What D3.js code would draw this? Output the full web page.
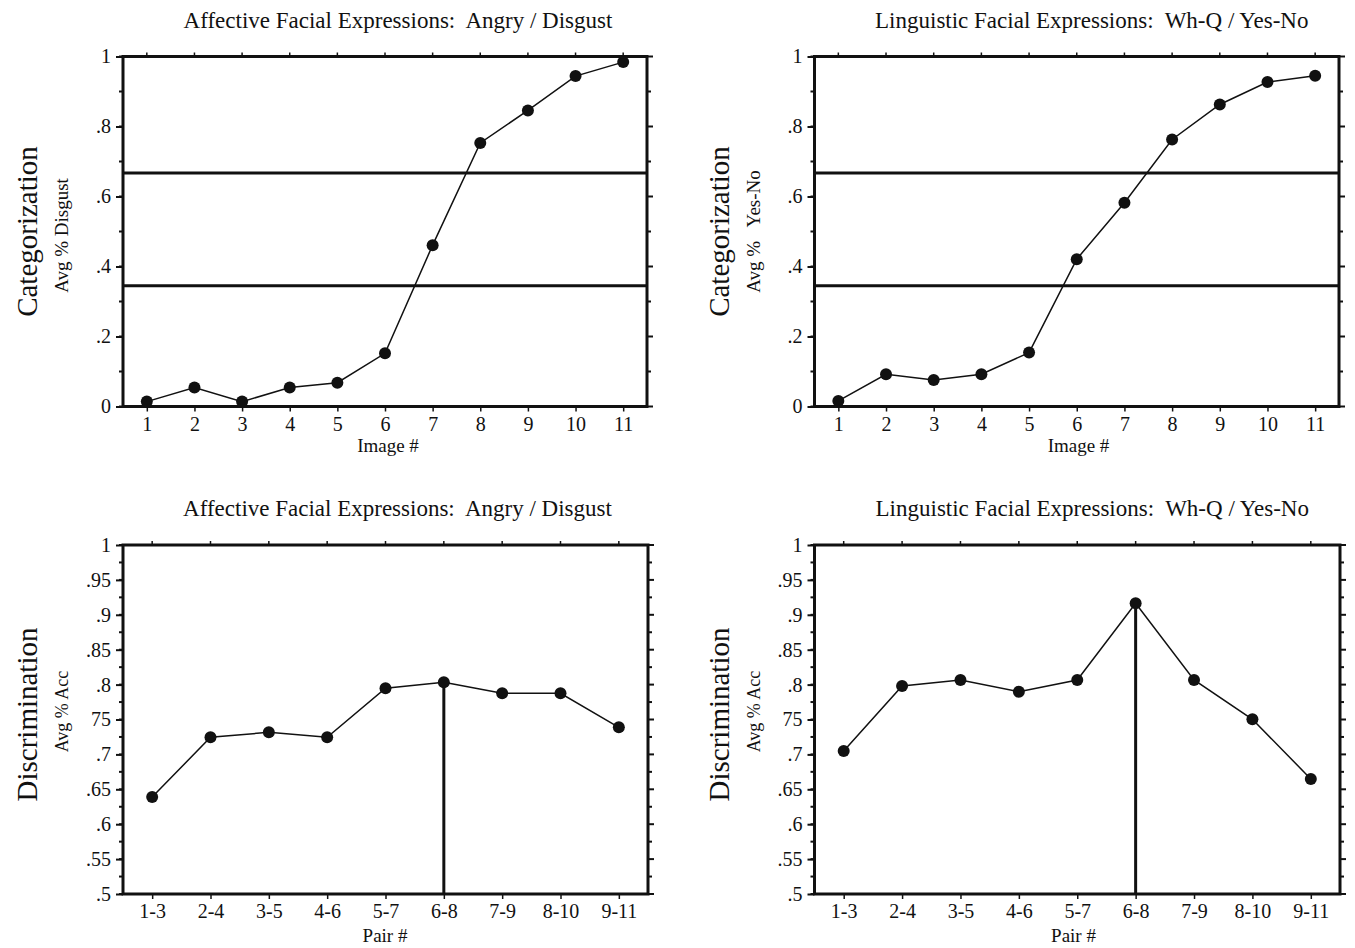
<!DOCTYPE html>
<html>
<head>
<meta charset="utf-8">
<script src="https://cdn.jsdelivr.net/npm/d3@7"></script>
<style>
  body { margin: 0; background: #fff; }
  svg text { font-family: "Liberation Serif", "Times New Roman", serif; fill: #111; white-space: pre; }
</style>
</head>
<body>
<div id="chart"></div>
<script>
// image numbers for the categorization panels
const images = [1, 2, 3, 4, 5, 6, 7, 8, 9, 10, 11];
const angryDisgustCat = [0.014, 0.054, 0.014, 0.054, 0.068, 0.152, 0.461, 0.753, 0.846, 0.944, 0.984];
const whqYesNoCat = [0.016, 0.092, 0.076, 0.092, 0.154, 0.421, 0.582, 0.763, 0.863, 0.927, 0.945];
const catThresholds = [0.345, 0.667];
const catTicks = [0, 0.2, 0.4, 0.6, 0.8, 1];
const catTickLabels = ["0", ".2", ".4", ".6", ".8", "1"];

// pairs for the discrimination panels
const pairs = ["1-3", "2-4", "3-5", "4-6", "5-7", "6-8", "7-9", "8-10", "9-11"];
const angryDisgustDisc = [0.639, 0.7245, 0.7317, 0.7245, 0.7947, 0.8033, 0.7875, 0.7875, 0.7388];
const whqYesNoDisc = [0.705, 0.798, 0.8066, 0.7898, 0.8066, 0.9165, 0.8066, 0.7503, 0.6648];
const discPeak = "6-8";
const discTicks = [0.5, 0.55, 0.6, 0.65, 0.7, 0.75, 0.8, 0.85, 0.9, 0.95, 1];
const discTickLabels = [".5", ".55", ".6", ".65", ".7", "75", ".8", ".85", ".9", ".95", "1"];

const titleAffective = "Affective Facial Expressions:  Angry / Disgust";
const titleLinguistic = "Linguistic Facial Expressions:  Wh-Q / Yes-No";

const svg = d3.select("#chart").append("svg")
    .attr("width", 1355)
    .attr("height", 948);

function drawPanel(cfg) {
    const g = svg.append("g").attr("transform", `translate(${cfg.left},${cfg.top})`);
    const w = cfg.width, h = cfg.height;

    const n = cfg.xLabels.length;
    const x = d3.scaleLinear().domain([0.5, n + 0.5]).range([0, w]);
    const y = d3.scaleLinear().domain(cfg.yDomain).range([h, 0]);
    const idx = d3.range(1, n + 1);

    // minor ticks
    const minor = d3.range(cfg.yDomain[0], cfg.yDomain[1] + 1e-9, cfg.minorStep);

    // left axis
    const leftAxis = d3.axisLeft(y).tickValues(cfg.yTicks)
        .tickFormat((d, i) => cfg.yTickLabels[i]).tickSizeOuter(0).tickSize(7).tickPadding(5);
    const la = g.append("g").call(leftAxis);
    la.select(".domain").remove();
    la.selectAll("line").attr("stroke", "#111").attr("stroke-width", 2);
    la.selectAll("text").attr("font-size", 20).attr("font-family", "Liberation Serif");
    g.append("g").selectAll("line").data(minor).join("line")
        .attr("x1", -4).attr("x2", 0)
        .attr("y1", d => y(d)).attr("y2", d => y(d))
        .attr("stroke", "#111").attr("stroke-width", 2);

    // right axis ticks (outward, no labels)
    g.append("g").selectAll("line").data(minor).join("line")
        .attr("x1", w).attr("x2", d => w + (cfg.yTicks.some(t => Math.abs(t - d) < 1e-6) ? 6 : 4))
        .attr("y1", d => y(d)).attr("y2", d => y(d))
        .attr("stroke", "#111").attr("stroke-width", 2);

    // bottom axis
    const bottomAxis = d3.axisBottom(x).tickValues(idx)
        .tickFormat((d, i) => cfg.xLabels[i]).tickSizeOuter(0).tickSize(5).tickPadding(5);
    const ba = g.append("g").attr("transform", `translate(0,${h})`).call(bottomAxis);
    ba.select(".domain").remove();
    ba.selectAll("line").attr("stroke", "#111").attr("stroke-width", 1.5);
    ba.selectAll("text").attr("font-size", 20).attr("font-family", "Liberation Serif");

    // top ticks
    g.append("g").selectAll("line").data(idx).join("line")
        .attr("x1", d => x(d)).attr("x2", d => x(d))
        .attr("y1", 0).attr("y2", -4)
        .attr("stroke", "#111").attr("stroke-width", 1.5);

    // frame
    g.append("rect").attr("x", 0).attr("y", 0).attr("width", w).attr("height", h)
        .attr("fill", "none").attr("stroke", "#111").attr("stroke-width", 3);

    // horizontal reference lines
    if (cfg.hLines) {
        g.append("g").selectAll("line").data(cfg.hLines).join("line")
            .attr("x1", 0).attr("x2", w)
            .attr("y1", d => y(d)).attr("y2", d => y(d))
            .attr("stroke", "#111").attr("stroke-width", 3);
    }

    const pts = cfg.values.map((v, i) => ({ x: i + 1, v: v, label: cfg.xLabels[i] }));

    // vertical line at peak
    if (cfg.peak) {
        const p = pts.find(d => d.label === cfg.peak);
        g.append("line")
            .attr("x1", x(p.x)).attr("x2", x(p.x))
            .attr("y1", y(p.v)).attr("y2", h)
            .attr("stroke", "#111").attr("stroke-width", 3);
    }

    const line = d3.line().x(d => x(d.x)).y(d => y(d.v));
    g.append("path").datum(pts).attr("d", line)
        .attr("fill", "none").attr("stroke", "#111").attr("stroke-width", 1.5);
    g.append("g").selectAll("circle").data(pts).join("circle")
        .attr("cx", d => x(d.x)).attr("cy", d => y(d.v)).attr("r", 6)
        .attr("fill", "#111");

    // title
    svg.append("text")
        .attr("x", cfg.left + w / 2 + cfg.titleDx).attr("y", cfg.top - 29)
        .attr("text-anchor", "middle").attr("font-size", 23)
        .text(cfg.title);

    // x label
    svg.append("text")
        .attr("x", cfg.left + cfg.xLabelX).attr("y", cfg.top + h + cfg.xLabelDy)
        .attr("text-anchor", "middle").attr("font-size", 19)
        .text(cfg.xTitle);

    // y labels
    svg.append("text")
        .attr("transform", `translate(${cfg.left - 86},${cfg.top + h / 2 + cfg.bigDy}) rotate(-90)`)
        .attr("text-anchor", "middle").attr("font-size", 29)
        .text(cfg.bigLabel);
    svg.append("text")
        .attr("transform", `translate(${cfg.left - 55},${cfg.top + h / 2 + cfg.smallDy}) rotate(-90)`)
        .attr("text-anchor", "middle").attr("font-size", cfg.smallSize)
        .text(cfg.smallLabel);
}

const topTop = 56.5, topH = 350;
const botTop = 545, botH = 349;

drawPanel({
    left: 123, top: topTop, width: 524, height: topH,
    xLabels: images.map(String), values: angryDisgustCat,
    yDomain: [0, 1], yTicks: catTicks, yTickLabels: catTickLabels, minorStep: 0.1,
    hLines: catThresholds, title: titleAffective, titleDx: 13,
    xTitle: "Image #", xLabelX: 265, xLabelDy: 45,
    bigLabel: "Categorization", bigDy: 0, smallLabel: "Avg % Disgust", smallDy: 4, smallSize: 19
});
drawPanel({
    left: 814.5, top: topTop, width: 524.5, height: topH,
    xLabels: images.map(String), values: whqYesNoCat,
    yDomain: [0, 1], yTicks: catTicks, yTickLabels: catTickLabels, minorStep: 0.1,
    hLines: catThresholds, title: titleLinguistic, titleDx: 15,
    xTitle: "Image #", xLabelX: 264, xLabelDy: 45,
    bigLabel: "Categorization", bigDy: 0, smallLabel: "Avg %   Yes-No", smallDy: 0, smallSize: 19
});
drawPanel({
    left: 123, top: botTop, width: 525, height: botH,
    xLabels: pairs, values: angryDisgustDisc,
    yDomain: [0.5, 1], yTicks: discTicks, yTickLabels: discTickLabels, minorStep: 0.025,
    peak: discPeak, title: titleAffective, titleDx: 12,
    xTitle: "Pair #", xLabelX: 262, xLabelDy: 48,
    bigLabel: "Discrimination", bigDy: -5, smallLabel: "Avg % Acc", smallDy: -8, smallSize: 18
});
drawPanel({
    left: 814.5, top: botTop, width: 525.5, height: botH,
    xLabels: pairs, values: whqYesNoDisc,
    yDomain: [0.5, 1], yTicks: discTicks, yTickLabels: discTickLabels, minorStep: 0.025,
    peak: discPeak, title: titleLinguistic, titleDx: 15,
    xTitle: "Pair #", xLabelX: 259, xLabelDy: 48,
    bigLabel: "Discrimination", bigDy: -5, smallLabel: "Avg % Acc", smallDy: -8, smallSize: 18
});
</script>
</body>
</html>
